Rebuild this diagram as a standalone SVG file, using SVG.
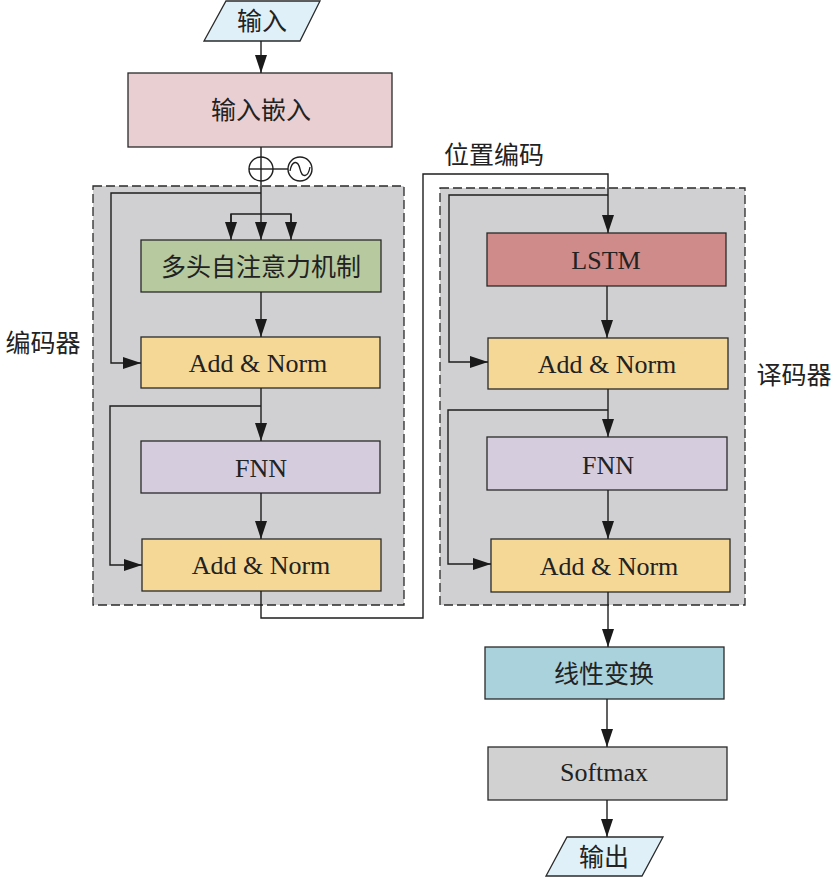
<svg xmlns="http://www.w3.org/2000/svg" width="840" height="880" viewBox="0 0 840 880">
<defs>
<marker id="ah" markerWidth="13" markerHeight="8.6" refX="18" refY="6" orient="auto" viewBox="0 0 18 12">
<path d="M0,0 L18,6 L0,12 Z" fill="#1a1a1a"/>
</marker>
<style>
.box{stroke:#2a2a2a;stroke-width:1.3}
.grp{fill:#d0d0d2;stroke:#2a2a2a;stroke-width:1.3;stroke-dasharray:9 4}
.ln{fill:none;stroke:#1e1e1e;stroke-width:1.4}
.arr{fill:none;stroke:#1e1e1e;stroke-width:1.4;marker-end:url(#ah)}
.cn{font-family:"Liberation Serif","Noto Sans CJK SC",serif;font-size:25px;fill:#222;text-anchor:middle}
.en{font-family:"Liberation Serif","Noto Sans CJK SC",serif;font-size:26px;fill:#222;text-anchor:middle}
</style>
</defs>
<rect x="0" y="0" width="840" height="880" fill="#fff"/>
<g id="encoder-group"><rect class="grp" x="93" y="186" width="311" height="419"/><text class="cn" x="43" y="352">编码器</text></g>
<g id="decoder-group"><rect class="grp" x="440" y="188" width="305" height="417"/><text class="cn" x="794" y="384">译码器</text></g>
<g id="input"><polygon class="box" fill="#dff0f8" points="226,1 320,1 300,41 204,41"/><text class="cn" x="262" y="30">输入</text></g>
<g id="embed"><rect class="box" fill="#e9cfd1" x="128" y="73" width="264" height="74"/><text class="cn" x="261" y="119">输入嵌入</text></g>
<g id="posenc">
<circle cx="261" cy="169" r="12" fill="#fff" stroke="#1e1e1e" stroke-width="1.4"/>
<line x1="249" y1="169" x2="273" y2="169" stroke="#1e1e1e" stroke-width="1.4"/>
<line x1="261" y1="157" x2="261" y2="181" stroke="#1e1e1e" stroke-width="1.4"/>
<circle cx="300" cy="169" r="12" fill="#fff" stroke="#1e1e1e" stroke-width="1.4"/>
<path d="M290,171 C292,160 298,160 300,169 C302,178 308,178 310,167" fill="none" stroke="#1e1e1e" stroke-width="1.3"/>
<text class="cn" x="494" y="164">位置编码</text>
</g>
<g id="mha"><rect class="box" fill="#b6c99f" x="141" y="240" width="240" height="52"/><text class="cn" x="261" y="276">多头自注意力机制</text></g>
<g id="addnorm1"><rect class="box" fill="#f5d896" x="141" y="337" width="239" height="51"/><text class="en" x="258" y="372">Add &amp; Norm</text></g>
<g id="fnn1"><rect class="box" fill="#d5cdde" x="141" y="441" width="239" height="52"/><text class="en" x="261" y="477">FNN</text></g>
<g id="addnorm2"><rect class="box" fill="#f5d896" x="142" y="539" width="239" height="52"/><text class="en" x="261" y="574">Add &amp; Norm</text></g>
<g id="lstm"><rect class="box" fill="#cf8a8a" x="487" y="233" width="239" height="53"/><text class="en" x="606" y="269">LSTM</text></g>
<g id="addnorm3"><rect class="box" fill="#f5d896" x="488" y="338" width="240" height="51"/><text class="en" x="607" y="373">Add &amp; Norm</text></g>
<g id="fnn2"><rect class="box" fill="#d5cdde" x="487" y="437" width="240" height="53"/><text class="en" x="608" y="474">FNN</text></g>
<g id="addnorm4"><rect class="box" fill="#f5d896" x="491" y="539" width="239" height="53"/><text class="en" x="609" y="575">Add &amp; Norm</text></g>
<g id="linear"><rect class="box" fill="#a9d2dd" x="485" y="647" width="239" height="52"/><text class="cn" x="604" y="683">线性变换</text></g>
<g id="softmax"><rect class="box" fill="#d1d1d1" x="488" y="747" width="239" height="53"/><text class="en" x="604" y="781">Softmax</text></g>
<g id="output"><polygon class="box" fill="#dff0f8" points="567,837 663,837 642,876 546,876"/><text class="cn" x="604" y="866">输出</text></g>
<g id="connectors">
<line class="arr" x1="261" y1="41" x2="261" y2="73"/>
<line class="ln" x1="261" y1="147" x2="261" y2="157"/>
<line class="ln" x1="273" y1="169" x2="288" y2="169"/>
<line class="arr" x1="261" y1="181" x2="261" y2="240"/>
<polyline class="ln" points="231,228 231,214 291,214 291,228"/>
<line class="arr" x1="231" y1="214" x2="231" y2="240"/>
<line class="arr" x1="291" y1="214" x2="291" y2="240"/>
<polyline class="arr" points="261,193 111,193 111,363 141,363"/>
<line class="arr" x1="261" y1="292" x2="261" y2="337"/>
<line class="arr" x1="261" y1="388" x2="261" y2="441"/>
<polyline class="arr" points="261,406 110,406 110,565 142,565"/>
<line class="arr" x1="261" y1="493" x2="261" y2="539"/>
<polyline class="arr" points="261,591 261,618 423,618 423,174 608,174 608,233"/>
<polyline class="arr" points="608,195 449,195 449,362 488,362"/>
<line class="arr" x1="607" y1="286" x2="607" y2="338"/>
<line class="arr" x1="608" y1="389" x2="608" y2="437"/>
<polyline class="arr" points="608,410 448,410 448,564 491,564"/>
<line class="arr" x1="608" y1="490" x2="608" y2="539"/>
<line class="arr" x1="608" y1="592" x2="608" y2="647"/>
<line class="arr" x1="607" y1="699" x2="607" y2="747"/>
<line class="arr" x1="607" y1="800" x2="607" y2="837"/>
</g>
</svg>
